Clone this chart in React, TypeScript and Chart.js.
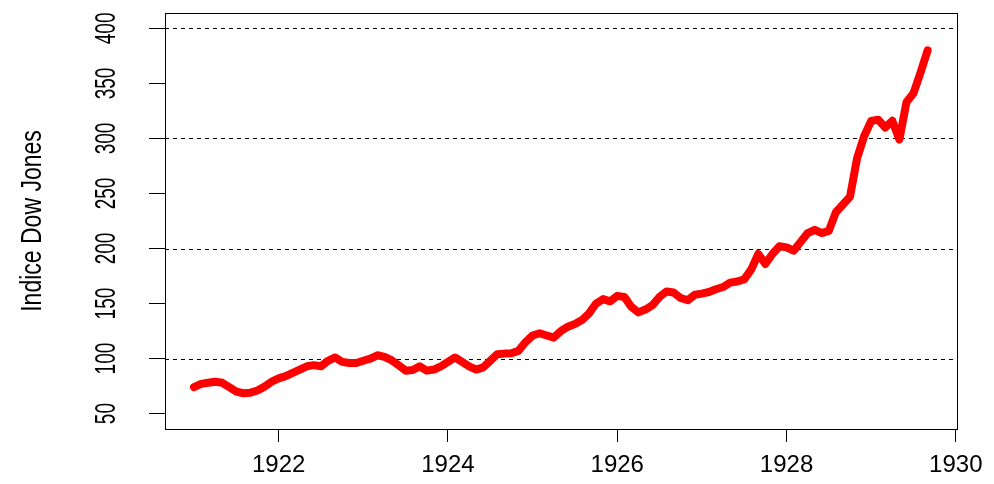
import React, { useEffect, useRef } from "react";
import { Chart, registerables } from "chart.js";

Chart.register(...registerables);

// Monthly Dow Jones index, January 1921 to September 1929
const START_YEAR = 1921;
const dowJones: number[] = [
  74, 77, 78, 79, 78, 74, 70, 68.5, 69, 71, 74.5, 79,
  82, 84, 87, 90, 93, 94, 93, 98, 101, 97, 96, 96,
  98, 100, 103, 101.5, 98.5, 94, 89, 89.6, 93, 89, 90, 93,
  97, 101, 97, 93, 90, 92, 98, 104, 104.5, 104.8, 107, 115,
  121, 123, 121, 119, 125, 129, 131.5, 135, 141, 150, 154, 152,
  157, 156, 147, 142, 144.5, 148.5, 156, 161, 160, 155, 153, 158,
  159, 160.5, 163, 165, 169, 170, 172, 181, 195, 186, 195, 202,
  201, 198, 206, 214, 217, 214, 216, 233, 240, 247, 282, 302,
  316, 317, 310, 316, 299, 333, 341, 360, 380,
];
const xTicks: number[] = [1922, 1924, 1926, 1928, 1930];
const yTicks: number[] = [50, 100, 150, 200, 250, 300, 350, 400];
const refLines: number[] = [100, 200, 300, 400];
const yTitle = "Indice Dow Jones";

const FONT = "'Liberation Sans', Arial, sans-serif";

const overlay = {
  id: "rOverlay",
  beforeDatasetsDraw(chart: any) {
    const { ctx, chartArea, scales } = chart;
    ctx.save();
    ctx.strokeStyle = "#000";
    ctx.lineWidth = 1;
    ctx.setLineDash([4, 4]);
    for (const v of refLines) {
      const y = Math.round(scales.y.getPixelForValue(v)) + 0.5;
      ctx.beginPath();
      ctx.moveTo(chartArea.left, y);
      ctx.lineTo(chartArea.right, y);
      ctx.stroke();
    }
    ctx.restore();
  },
  afterDraw(chart: any) {
    const { ctx, chartArea, scales } = chart;
    ctx.save();
    ctx.strokeStyle = "#000";
    ctx.lineWidth = 1;
    ctx.setLineDash([]);
    ctx.strokeRect(
      chartArea.left + 0.5,
      chartArea.top + 0.5,
      chartArea.right - chartArea.left,
      chartArea.bottom - chartArea.top
    );
    ctx.fillStyle = "#000";
    ctx.textAlign = "center";
    ctx.textBaseline = "middle";
    ctx.font = `19px ${FONT}`;
    for (const v of yTicks) {
      const y = scales.y.getPixelForValue(v);
      ctx.save();
      ctx.translate(107, y);
      ctx.rotate(-Math.PI / 2);
      ctx.scale(1, 1.55);
      ctx.fillText(String(v), 0, 0);
      ctx.restore();
    }
    ctx.font = `23px ${FONT}`;
    ctx.save();
    ctx.translate(33, (chartArea.top + chartArea.bottom) / 2);
    ctx.rotate(-Math.PI / 2);
    ctx.scale(1, 1.3);
    ctx.fillText(yTitle, 0, 0);
    ctx.restore();
    ctx.restore();
  },
};

export default function App() {
  const ref = useRef<HTMLCanvasElement | null>(null);
  useEffect(() => {
    if (!ref.current) return;
    const points = dowJones.map((v, i) => ({ x: START_YEAR + i / 12, y: v }));
    const chart = new Chart(ref.current, {
      type: "line",
      data: {
        datasets: [
          {
            data: points,
            borderColor: "#ff0000",
            borderWidth: 8,
            pointRadius: 0,
            tension: 0,
            fill: false,
            borderCapStyle: "round",
            borderJoinStyle: "round",
          },
        ],
      },
      options: {
        animation: false,
        responsive: false,
        maintainAspectRatio: false,
        layout: { padding: { top: 13, right: 37, left: 0, bottom: 0 } },
        plugins: { legend: { display: false }, tooltip: { enabled: false } },
        scales: {
          x: {
            type: "linear",
            min: 1920.657,
            max: 1930.014,
            afterBuildTicks: (s: any) => {
              s.ticks = xTicks.map((v) => ({ value: v }));
            },
            afterFit: (s: any) => {
              s.height = 55;
            },
            ticks: {
              color: "#000",
              font: { family: FONT, size: 24 },
              padding: 9,
              maxRotation: 0,
              autoSkip: false,
              callback: (v: any) => String(v),
            },
            grid: {
              display: true,
              drawOnChartArea: false,
              drawTicks: true,
              tickLength: 13,
              tickColor: "#000",
              tickWidth: 1,
            },
            border: { display: true, color: "#000", width: 1 },
          },
          y: {
            type: "linear",
            min: 36,
            max: 414,
            afterBuildTicks: (s: any) => {
              s.ticks = yTicks.map((v) => ({ value: v }));
            },
            afterFit: (s: any) => {
              s.width = 165;
            },
            ticks: { display: false },
            grid: {
              display: true,
              drawOnChartArea: false,
              drawTicks: true,
              tickLength: 16,
              tickColor: "#000",
              tickWidth: 1,
            },
            border: { display: true, color: "#000", width: 1 },
          },
        },
      },
      plugins: [overlay],
    });
    return () => chart.destroy();
  }, []);
  return (
    <div style={{ position: "fixed", left: 0, top: 0, width: 994, height: 484, background: "#fff" }}>
      <canvas ref={ref} width={994} height={484} style={{ width: 994, height: 484 }} />
    </div>
  );
}
